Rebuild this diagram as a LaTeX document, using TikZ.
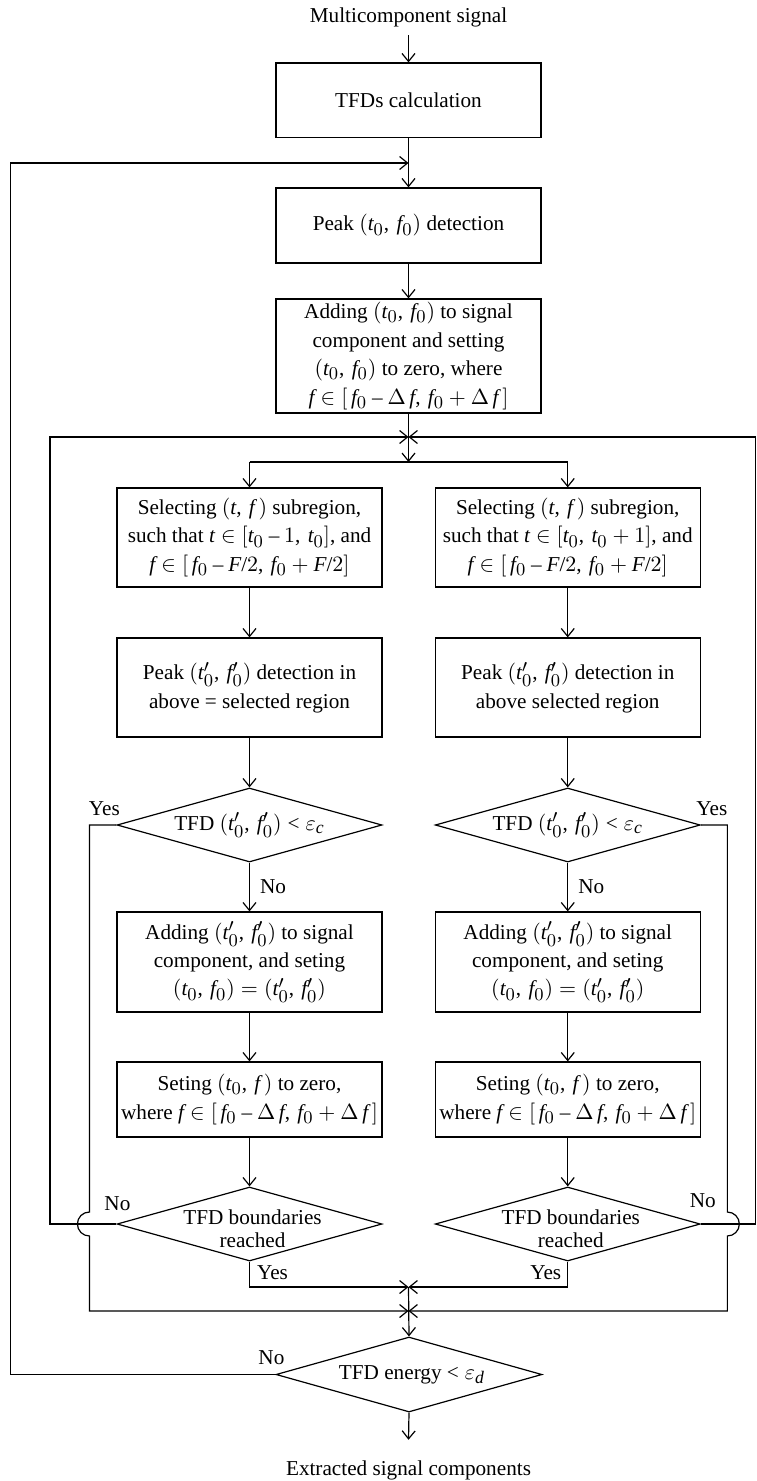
\documentclass[tikz,border=0pt]{standalone}
\usepackage{fontspec}
\setmainfont{Liberation Serif}
\usepackage[italic]{mathastext}
\usetikzlibrary{arrows.meta,shapes.geometric,calc}
\begin{document}
\begin{tikzpicture}[x=0.5pt,y=-0.5pt,
  font=\fontsize{10.6}{14.2}\selectfont,
  line width=0.6pt,
  >={Straight Barb[length=4pt,width=6.5pt]},
  box/.style={draw, rectangle, minimum width=132.5pt, align=center, inner sep=0pt},
  dia/.style={draw, diamond, minimum width=132.5pt, minimum height=37pt, inner sep=0pt},
  lbl/.style={inner sep=0pt, align=center}]
\useasboundingbox (0,0) rectangle (756,1481);

% ---- main column
\node[lbl] (in) at (408.5,17) {Multicomponent signal};
\node[box, minimum height=37.25pt] (tfd) at (408.5,100.25) {TFDs calculation};
\node[box, minimum height=37.5pt] (peak) at (408.5,225.5) {Peak $(t_0,\, f_0)$ detection};
\node[box, minimum height=57pt] (add) at (408.5,356) {Adding $(t_0,\, f_0)$ to signal\\ component and setting\\ $(t_0,\, f_0)$ to zero, where\\ $f \in [\,f_0 - \Delta\, f,\, f_0 + \Delta\, f\,]$};

\coordinate (fb) at (408.5,163);
\coordinate (m1) at (408.5,437);
\coordinate (sp) at (408.5,462);
\coordinate (m2) at (408.5,1287);
\coordinate (m3) at (408.5,1311);

% ---- left column
\node[box, minimum height=49.5pt] (selL) at (249.5,537.5) {Selecting $(t,\, f\,)$ subregion,\\ such that $t \in [t_0 - 1,\, t_0]$, and\\ $f \in [\,f_0 - F/2,\, f_0 + F/2]$};
\node[box, minimum height=49.5pt] (pkL) at (249.5,687.5) {Peak $(t_0',\, f_0')$ detection in\\ above = selected region};
\node[dia] (dcL) at (249.5,825) {};
\node[lbl] at (dcL) {TFD $(t_0',\, f_0') < \varepsilon_c$};
\node[box, minimum height=50pt] (adL) at (249.5,962) {Adding $(t_0',\, f_0')$ to signal\\ component, and seting\\ $(t_0,\, f_0) = (t_0',\, f_0')$};
\node[box, minimum height=37.5pt] (stL) at (249.5,1099.5) {Seting $(t_0,\, f\,)$ to zero,\\ where $f \in [\,f_0 - \Delta\, f,\, f_0 + \Delta\, f\,]$};
\node[dia] (dbL) at (249.5,1224) {};
\node[lbl, font=\fontsize{10.6}{11.5}\selectfont] at ($(dbL)+(3,5)$) {TFD boundaries\\ reached};

% ---- right column
\node[box, minimum height=49.5pt] (selR) at (567.75,537.5) {Selecting $(t,\, f\,)$ subregion,\\ such that $t \in [t_0,\, t_0 + 1]$, and\\ $f \in [\,f_0 - F/2,\, f_0 + F/2]$};
\node[box, minimum height=49.5pt] (pkR) at (567.75,687.5) {Peak $(t_0',\, f_0')$ detection in\\ above selected region};
\node[dia] (dcR) at (567.75,825) {};
\node[lbl] at (dcR) {TFD $(t_0',\, f_0') < \varepsilon_c$};
\node[box, minimum height=50pt] (adR) at (567.75,962) {Adding $(t_0',\, f_0')$ to signal\\ component, and seting\\ $(t_0,\, f_0) = (t_0',\, f_0')$};
\node[box, minimum height=37.5pt] (stR) at (567.75,1099.5) {Seting $(t_0,\, f\,)$ to zero,\\ where $f \in [\,f_0 - \Delta\, f,\, f_0 + \Delta\, f\,]$};
\node[dia] (dbR) at (567.75,1224) {};
\node[lbl, font=\fontsize{10.6}{11.5}\selectfont] at ($(dbR)+(3,5)$) {TFD boundaries\\ reached};

% ---- final
\node[dia, minimum width=133pt, minimum height=37.5pt] (fin) at (409,1374.5) {};
\node[lbl] at ($(fin)+(3,0)$) {TFD energy $< \varepsilon_d$};
\node[lbl] (out) at (408.5,1470) {Extracted signal components};

% ---- connectors, main column
\draw[->] ([yshift=-4pt]in.south) -- (tfd.north);
\draw[->] (tfd) -- (peak);
\draw[->] (peak) -- (add);
\draw[->] (add.south) -- (sp);
\draw (sp -| selL.north) -- (sp -| selR.north);
\draw[->] (sp -| selL.north) -- (selL.north);
\draw[->] (sp -| selR.north) -- (selR.north);

% ---- left column flow
\draw[->] (selL) -- (pkL);
\draw[->] (pkL) -- (dcL);
\draw[->] (dcL) -- node[right, inner sep=5pt] {No} (adL);
\draw[->] (adL) -- (stL);
\draw[->] (stL) -- (dbL);
\node[lbl] at ($(dcL.west)+(-12,-16)$) {Yes};
\draw[->] (dcL.west) -| ($(dbL.west)+(-27,-12)$)
  arc[start angle=-90, end angle=-270, radius=12] |- (m3);
\node[lbl] at ($(dbL.west)+(1,-20)$) {No};
\draw[->] (dbL.west) -- ($(dbL.west)+(-66.4,0)$) |- (m1);
\draw[->] (dbL.south) |- (m2);
\node[lbl] at ($(dbL.south)+(23,11)$) {Yes};

% ---- right column flow
\draw[->] (selR) -- (pkR);
\draw[->] (pkR) -- (dcR);
\draw[->] (dcR) -- node[right, inner sep=5pt] {No} (adR);
\draw[->] (adR) -- (stR);
\draw[->] (stR) -- (dbR);
\node[lbl] at ($(dcR.east)+(11,-16)$) {Yes};
\draw[->] (dcR.east) -| ($(dbR.east)+(26.5,-12)$)
  arc[start angle=-90, end angle=90, radius=12] |- (m3);
\node[lbl] at ($(dbR.east)+(2,-23)$) {No};
\draw[->] (dbR.east) -- ($(dbR.east)+(54.5,0)$) |- (m1);
\draw[->] (dbR.south) |- (m2);
\node[lbl] at ($(dbR.south)+(-22,11)$) {Yes};

% ---- merge and final
\draw[->] (m2) -- (fin.north);
\draw[->] (fin.west) -| (10.6,163) -- (fb);
\node[lbl] at ($(fin.west)+(-4,-17)$) {No};
\draw[->] (fin.south) -- ([yshift=10pt]out.north);
\end{tikzpicture}
\end{document}
